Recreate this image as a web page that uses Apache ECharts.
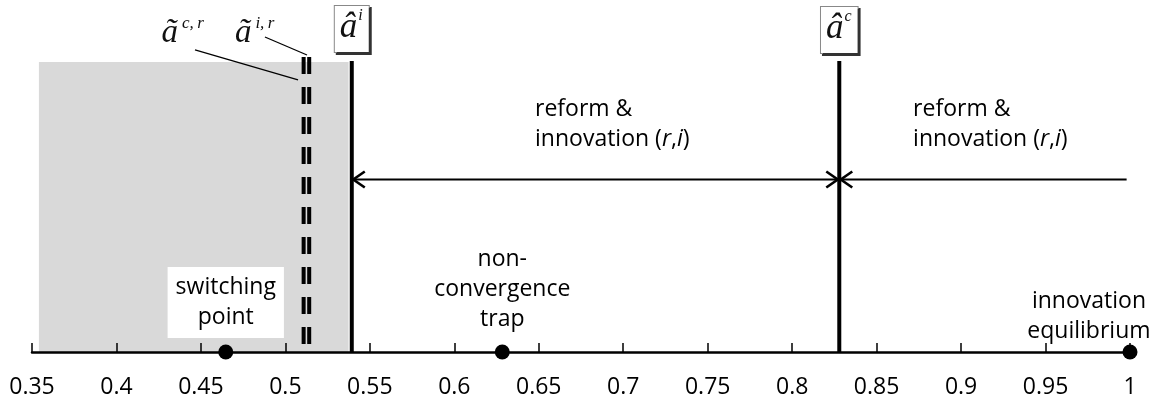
<!DOCTYPE html>
<html><head><meta charset="utf-8">
<script src="https://cdn.jsdelivr.net/npm/echarts@6/dist/echarts.min.js"></script>
<style>html,body{margin:0;padding:0;background:#fff}#c{width:1157px;height:401px}</style>
</head><body><div id="c"></div>
<script>
// ---- data ----
const axisMin = 0.35;
const axisMax = 1;
const axisStep = 0.05;

const shadeRange = [0.3541, 0.5374];
const shadeTop = [96.7];

const thresholdSup = ['i', 'c'];
const thresholdValues = [0.5393, 0.8279];
const thresholdTop = [97];
const thresholdLabelY = [107.7, 107.3];

const dashedSup = ['c,\u2009r', 'i,\u2009r'];
const dashedValues = [0.5108, 0.5141];
const dashedTop = [98.3];
const dashedLabelX = [0.4392, 0.4818];
const dashedLabelY = [106.2, 106.2];
const leaderFrom = [[0.4465, 100.7], [0.4879, 105]];
const leaderTo = [[0.5075, 90.7], [0.5128, 99]];

const pointNames = ['switching\npoint', 'non-\nconvergence\ntrap', 'innovation\nequilibrium'];
const pointValues = [0.4647, 0.6284, 1.0];
const pointLabelX = [0.4647, 0.6284, 0.9757];
const pointLabelY = [16.5, 20.7, 12];

const arrowFrom = [0.5393, 0.8279];
const arrowTo = [0.8279, 0.998];
const arrowY = [57.5, 57.5];
const arrowHeadFrom = [1, 1];
const arrowHeadTo = [1, 0];

const regionLines = ['reform &', 'innovation ({i|r},{i|i})'];
const regionX = [0.6478, 0.8716];
const regionY = [76, 76];

// ---- chart ----
const TXT = 'Open Sans';
const chart = echarts.init(document.getElementById('c'), null, {renderer: 'canvas'});

const regionRich = regionLines.map(l => {
  return l.split(/(\{i\|[^}]*\})/).filter(s => s.length).map(s => s.startsWith('{i|') ? s : '{n|' + s + '}').join('');
}).join('\n');

const option = {
  animation: false,
  backgroundColor: '#fff',
  grid: {left: 32, right: 27, top: 1, bottom: 49},
  xAxis: {
    type: 'value', min: axisMin, max: axisMax, interval: axisStep, z: 3,
    axisLine: {onZero: false, lineStyle: {color: '#000', width: 2.5}},
    axisTick: {inside: true, length: 9, lineStyle: {color: '#000', width: 1.5}},
    axisLabel: {fontFamily: TXT, fontSize: 23, color: '#000', margin: 24},
    splitLine: {show: false}
  },
  yAxis: {type: 'value', min: 0, max: 117, show: false},
  series: [
    {
      type: 'custom', z: 1, silent: true, clip: false,
      encode: {x: [0, 1], y: 2},
      data: [[shadeRange[0], shadeRange[1], shadeTop[0]]],
      renderItem: (p, api) => {
        const a = api.coord([api.value(0), api.value(2)]);
        const b = api.coord([api.value(1), 0]);
        return {type: 'rect', shape: {x: a[0], y: a[1], width: b[0] - a[0], height: b[1] - a[1]}, style: {fill: '#d9d9d9'}};
      }
    },
    {
      type: 'custom', z: 2, silent: true, clip: false,
      encode: {x: 0, y: 1},
      data: dashedValues.map(v => [v, dashedTop[0]]),
      renderItem: (p, api) => {
        const a = api.coord([api.value(0), api.value(1)]);
        const b = api.coord([api.value(0), 0]);
        return {type: 'line', shape: {x1: a[0], y1: a[1], x2: b[0], y2: b[1]},
          style: {stroke: '#000', lineWidth: 4, lineDash: [17, 13]}};
      }
    },
    {
      type: 'custom', z: 2, silent: true, clip: false,
      encode: {x: 0, y: 1},
      data: thresholdValues.map(v => [v, thresholdTop[0]]),
      renderItem: (p, api) => {
        const a = api.coord([api.value(0), api.value(1)]);
        const b = api.coord([api.value(0), 0]);
        return {type: 'line', shape: {x1: a[0], y1: a[1], x2: b[0], y2: b[1]},
          style: {stroke: '#000', lineWidth: 4}};
      }
    },
    {
      type: 'custom', z: 2, silent: true, clip: false,
      encode: {x: [0, 1], y: 2},
      data: arrowFrom.map((v, i) => [v, arrowTo[i], arrowY[i], arrowHeadFrom[i], arrowHeadTo[i]]),
      renderItem: (p, api) => {
        const a = api.coord([api.value(0), api.value(2)]);
        const b = api.coord([api.value(1), api.value(2)]);
        const L = 13, H = 8;
        const ch = [{type: 'line', shape: {x1: a[0], y1: a[1], x2: b[0], y2: b[1]}, style: {stroke: '#000', lineWidth: 2.2}}];
        if (api.value(3)) ch.push({type: 'polyline', shape: {points: [[a[0] + L, a[1] - H], [a[0] + 1.5, a[1]], [a[0] + L, a[1] + H]]}, style: {stroke: '#000', fill: null, lineWidth: 2.6}});
        if (api.value(4)) ch.push({type: 'polyline', shape: {points: [[b[0] - L, b[1] - H], [b[0] - 1.5, b[1]], [b[0] - L, b[1] + H]]}, style: {stroke: '#000', fill: null, lineWidth: 2.6}});
        return {type: 'group', children: ch};
      }
    },
    {
      type: 'custom', z: 2, silent: true, clip: false,
      encode: {x: [0, 2], y: [1, 3]},
      data: leaderFrom.map((f, i) => [f[0], f[1], leaderTo[i][0], leaderTo[i][1]]),
      renderItem: (p, api) => {
        const a = api.coord([api.value(0), api.value(1)]);
        const b = api.coord([api.value(2), api.value(3)]);
        return {type: 'line', shape: {x1: a[0], y1: a[1], x2: b[0], y2: b[1]}, style: {stroke: '#000', lineWidth: 1.3}};
      }
    },
    {
      type: 'scatter', z: 5, silent: true, clip: false,
      symbol: 'circle', symbolSize: 15,
      itemStyle: {color: '#000', opacity: 1},
      data: pointValues.map(v => [v, 0])
    },
    {
      type: 'scatter', z: 6, silent: true, clip: false, symbolSize: 0,
      itemStyle: {opacity: 1},
      data: pointNames.map((n, i) => ({
        value: [pointLabelX[i], pointLabelY[i]], name: n,
        label: i === 0 ? {backgroundColor: '#fff', padding: [8, 8, 3, 8]} : {}
      })),
      label: {
        show: true, position: 'inside', formatter: p => p.name,
        fontFamily: TXT, fontSize: 23, lineHeight: 30, color: '#000', align: 'center', verticalAlign: 'middle'
      }
    },
    {
      type: 'scatter', z: 6, silent: true, clip: false, symbolSize: 0,
      itemStyle: {opacity: 1},
      data: regionX.map((x, i) => [x, regionY[i]]),
      label: {
        show: true, position: 'right', distance: 0, formatter: regionRich,
        align: 'left', verticalAlign: 'middle',
        rich: {
          n: {fontFamily: TXT, fontSize: 23, lineHeight: 30, color: '#000'},
          i: {fontFamily: TXT, fontSize: 23, lineHeight: 30, color: '#000', fontStyle: 'italic'}
        }
      }
    },
    {
      type: 'scatter', z: 6, silent: true, clip: false, symbolSize: 0,
      itemStyle: {opacity: 1},
      data: thresholdValues.map((v, i) => ({value: [v, thresholdLabelY[i]], name: thresholdSup[i]})),
      label: {
        show: true, position: 'inside', formatter: p => '{a|\u00e2}{s|' + p.name + '}',
        backgroundColor: '#fff', borderColor: '#888', borderWidth: 1,
        padding: [2, 6, 4, 5],
        shadowColor: '#333', shadowOffsetX: 2, shadowOffsetY: 2, shadowBlur: 0,
        rich: {
          a: {fontFamily: 'Liberation Serif', fontStyle: 'italic', fontSize: 35, color: '#111', lineHeight: 40},
          s: {fontFamily: 'Liberation Serif', fontStyle: 'italic', fontSize: 16, color: '#111', verticalAlign: 'top', lineHeight: 40, padding: [0, 0, 14, 1]}
        }
      }
    },
    {
      type: 'scatter', z: 6, silent: true, clip: false, symbolSize: 0,
      itemStyle: {opacity: 1},
      data: dashedLabelX.map((x, i) => ({value: [x, dashedLabelY[i]], name: dashedSup[i]})),
      label: {
        show: true, position: 'inside', formatter: p => '{a|\u00e3}{s|' + p.name + '}',
        rich: {
          a: {fontFamily: 'Liberation Serif', fontStyle: 'italic', fontSize: 33, color: '#111', lineHeight: 36},
          s: {fontFamily: 'Liberation Serif', fontStyle: 'italic', fontSize: 17, color: '#111', verticalAlign: 'top', lineHeight: 36, padding: [0, 0, 12, 4]}
        }
      }
    }
  ]
};
chart.setOption(option);
</script>
</body></html>
